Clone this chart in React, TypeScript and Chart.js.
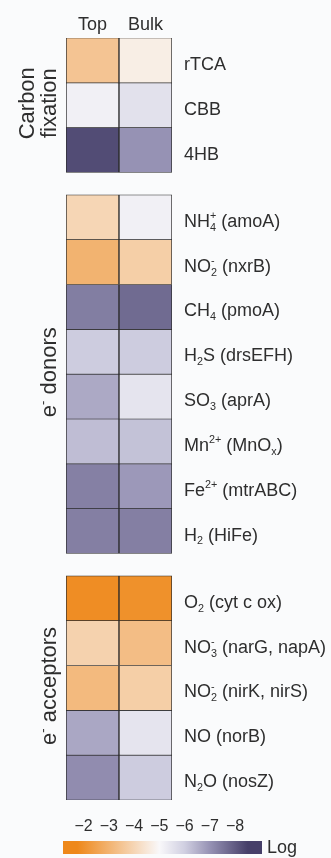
import React, { useEffect, useRef } from "react";
import { Chart, registerables } from "chart.js";
Chart.register(...registerables);

// ---------- data ----------
const columns = ["Top", "Bulk"];

const carbonLabels = ["rTCA", "CBB", "4HB"];
const carbonTop = [-3.5, -5.2, -8.27];
const carbonBulk = [-4.7, -5.55, -7.0];

const donorLabels = [
  "NH_4^+ (amoA)",
  "NO_2^- (nxrB)",
  "CH_4 (pmoA)",
  "H_2S (drsEFH)",
  "SO_3 (aprA)",
  "Mn^{2+} (MnO_x)",
  "Fe^{2+} (mtrABC)",
  "H_2 (HiFe)",
];
const donorTop = [-4.0, -3.0, -7.37, -6.05, -6.62, -6.3, -7.32, -7.34];
const donorBulk = [-5.2, -3.8, -7.71, -6.05, -5.5, -6.22, -6.9, -7.34];

const acceptorLabels = [
  "O_2 (cyt c ox)",
  "NO_3^- (narG, napA)",
  "NO_2^- (nirK, nirS)",
  "NO (norB)",
  "N_2O (nosZ)",
];
const acceptorTop = [-1.9, -3.9, -3.2, -6.65, -7.1];
const acceptorBulk = [-2.0, -3.3, -3.8, -5.5, -6.05];

const groupTitles = [["Carbon", "fixation"], ["e^- donors"], ["e^- acceptors"]];

const colorbarTicks = [-2, -3, -4, -5, -6, -7, -8];
const colorbarMin = -8.5;
const colorbarMax = -1.75;
const colorbarLabel = "Log";

const stopValues = [-1.75, -5, -6, -7, -8.5];
const stopColors: number[][] = [
  [238, 136, 26],
  [249, 248, 250],
  [208, 207, 225],
  [150, 146, 180],
  [70, 63, 105],
];

// ---------- helpers ----------
const FONT = "'Liberation Sans', Arial, sans-serif";
const TEXT = "#2e2e2e";
const BG = "#fafbfc";

function rgb(c: number[]) {
  return `rgb(${Math.round(c[0])},${Math.round(c[1])},${Math.round(c[2])})`;
}
function colorFor(v: number): string {
  if (v >= stopValues[0]) return rgb(stopColors[0]);
  for (let i = 0; i < stopValues.length - 1; i++) {
    const a = stopValues[i], b = stopValues[i + 1];
    if (v <= a && v >= b) {
      const t = (a - v) / (a - b);
      const c = stopColors[i].map((x, k) => x + (stopColors[i + 1][k] - x) * t);
      return rgb(c);
    }
  }
  return rgb(stopColors[stopColors.length - 1]);
}

type Seg = { t: string; k: "n" | "sub" | "sup" };
function parseRich(s: string): Seg[] {
  const out: Seg[] = [];
  let buf = "";
  for (let i = 0; i < s.length; i++) {
    const c = s[i];
    if (c === "_" || c === "^") {
      if (buf) { out.push({ t: buf, k: "n" }); buf = ""; }
      let t = "";
      if (s[i + 1] === "{") {
        const j = s.indexOf("}", i + 2);
        t = s.slice(i + 2, j);
        i = j;
      } else {
        t = s[i + 1];
        i++;
      }
      out.push({ t, k: c === "_" ? "sub" : "sup" });
    } else buf += c;
  }
  if (buf) out.push({ t: buf, k: "n" });
  return out;
}

function drawRich(ctx: CanvasRenderingContext2D, s: string, x: number, y: number, size: number, align: "left" | "center") {
  const segs = parseRich(s);
  const small = size * 0.6;
  const items: { t: string; k: string; x: number; w: number }[] = [];
  let cx = 0;
  let prev: { t: string; k: string; x: number; w: number } | null = null;
  for (const seg of segs) {
    ctx.font = `${seg.k === "n" ? size : small}px ${FONT}`;
    const w = ctx.measureText(seg.t).width;
    if (prev && prev.k !== "n" && seg.k !== "n" && prev.k !== seg.k) {
      items.push({ ...seg, x: prev.x, w });
      cx += Math.max(0, w - prev.w);
      prev = null;
      continue;
    }
    const it = { ...seg, x: cx, w };
    items.push(it);
    cx += w;
    prev = it;
  }
  const start = align === "center" ? x - cx / 2 : x;
  ctx.textBaseline = "alphabetic";
  ctx.textAlign = "left";
  for (const it of items) {
    ctx.font = `${it.k === "n" ? size : small}px ${FONT}`;
    const dy = it.k === "sub" ? size * 0.22 : it.k === "sup" ? -size * 0.42 : 0;
    ctx.fillText(it.t, start + it.x, y + dy);
  }
}

// build rows
const groups = [
  { labels: carbonLabels, top: carbonTop, bulk: carbonBulk },
  { labels: donorLabels, top: donorTop, bulk: donorBulk },
  { labels: acceptorLabels, top: acceptorTop, bulk: acceptorBulk },
];
const GAP = 0.5;
type Row = { label: string; top: number; bulk: number; start: number };
const rows: Row[] = [];
const groupSpans: { start: number; end: number }[] = [];
{
  let pos = 0;
  groups.forEach((g) => {
    const s = pos;
    g.labels.forEach((l, i) => {
      rows.push({ label: l, top: g.top[i], bulk: g.bulk[i], start: pos });
      pos += 1;
    });
    groupSpans.push({ start: s, end: pos });
    pos += GAP;
  });
}
const totalRows = rows[rows.length - 1].start + 1;

const labelsPlugin = {
  id: "rowLabels",
  afterDraw(chart: any) {
    const ctx = chart.ctx as CanvasRenderingContext2D;
    const y = chart.scales.y;
    const area = chart.chartArea;
    ctx.save();
    ctx.fillStyle = TEXT;
    rows.forEach((r) => {
      const c = (y.getPixelForValue(r.start) + y.getPixelForValue(r.start + 1)) / 2;
      drawRich(ctx, r.label, area.right + 12, c + 18 * 0.36 + 3, 18, "left");
    });
    groupTitles.forEach((lines, gi) => {
      const sp = groupSpans[gi];
      const cy = (y.getPixelForValue(sp.start) + y.getPixelForValue(sp.end)) / 2;
      const baselines = lines.length === 2 ? [34, 56] : [56];
      lines.forEach((ln, li) => {
        ctx.save();
        ctx.translate(baselines[li], cy - 2);
        ctx.rotate(-Math.PI / 2);
        drawRich(ctx, ln, 0, 0, 22, "center");
        ctx.restore();
      });
    });
    ctx.restore();
  },
};

const colorbarPlugin = {
  id: "colorbarFill",
  beforeDatasetsDraw(chart: any) {
    const ctx = chart.ctx as CanvasRenderingContext2D;
    const x = chart.scales.x;
    const a = chart.chartArea;
    const p0 = x.getPixelForValue(colorbarMax);
    const p1 = x.getPixelForValue(colorbarMin);
    const g = ctx.createLinearGradient(p0, 0, p1, 0);
    stopValues.forEach((v, i) => {
      const f = (x.getPixelForValue(v) - p0) / (p1 - p0);
      g.addColorStop(Math.min(1, Math.max(0, f)), rgb(stopColors[i]));
    });
    ctx.save();
    ctx.fillStyle = g;
    ctx.fillRect(a.left, a.top, a.right - a.left, a.bottom - a.top);
    ctx.fillStyle = TEXT;
    ctx.font = `18px ${FONT}`;
    ctx.textBaseline = "middle";
    ctx.textAlign = "left";
    ctx.fillText(colorbarLabel, a.right + 5, (a.top + a.bottom) / 2 + 1);
    ctx.restore();
  },
};

export default function App() {
  const mainRef = useRef<HTMLCanvasElement>(null);
  const barRef = useRef<HTMLCanvasElement>(null);

  useEffect(() => {
    document.body.style.margin = "0";
    document.body.style.background = BG;
    const datasets = rows.map((r) => ({
      label: r.label,
      data: [
        [r.start, r.start + 1],
        [r.start, r.start + 1],
      ],
      backgroundColor: [colorFor(r.top), colorFor(r.bulk)],
      borderColor: "#2a2a2a",
      borderWidth: { top: 0.7, bottom: 0.7, left: 1, right: 1 },
      borderSkipped: false,
      barPercentage: 1,
      categoryPercentage: 1,
      grouped: false,
    }));
    const main = new Chart(mainRef.current!, {
      type: "bar",
      data: { labels: columns, datasets: datasets as any },
      options: {
        animation: false,
        responsive: false,
        layout: { padding: { left: 66, right: 159, top: 0, bottom: 12 } },
        plugins: { legend: { display: false }, tooltip: { enabled: false } },
        scales: {
          x: {
            position: "top",
            grid: { display: false, drawTicks: false },
            border: { display: false },
            ticks: { font: { size: 18, family: FONT }, color: TEXT, padding: 2 },
            afterFit: (s: any) => { s.height = 38; },
          },
          y: { type: "linear", min: 0, max: totalRows, reverse: true, display: false },
        },
      },
      plugins: [labelsPlugin],
    });

    const bar = new Chart(barRef.current!, {
      type: "bar",
      data: { datasets: [] },
      options: {
        animation: false,
        responsive: false,
        layout: { padding: { left: 63, right: 69, top: 0, bottom: 4 } },
        plugins: { legend: { display: false }, tooltip: { enabled: false } },
        scales: {
          x: {
            type: "linear",
            position: "top",
            min: colorbarMin,
            max: colorbarMax,
            reverse: true,
            grid: { display: false, drawTicks: false },
            border: { display: false },
            afterBuildTicks: (s: any) => { s.ticks = colorbarTicks.map((v) => ({ value: v })); },
            ticks: {
              font: { size: 16, family: FONT },
              color: TEXT,
              padding: 5,
              callback: (v: any) => String(v).replace("-", "\u2212"),
            },
            afterFit: (s: any) => { s.height = 29; },
          },
          y: { type: "linear", min: 0, max: 1, display: false },
        },
      },
      plugins: [colorbarPlugin],
    });
    return () => { main.destroy(); bar.destroy(); };
  }, []);

  return (
    <div style={{ position: "relative", width: 331, height: 858, background: BG }}>
      <canvas ref={mainRef} width={331} height={812} style={{ position: "absolute", left: 0, top: 0, width: 331, height: 812 }} />
      <canvas ref={barRef} width={331} height={46} style={{ position: "absolute", left: 0, top: 812, width: 331, height: 46 }} />
    </div>
  );
}
